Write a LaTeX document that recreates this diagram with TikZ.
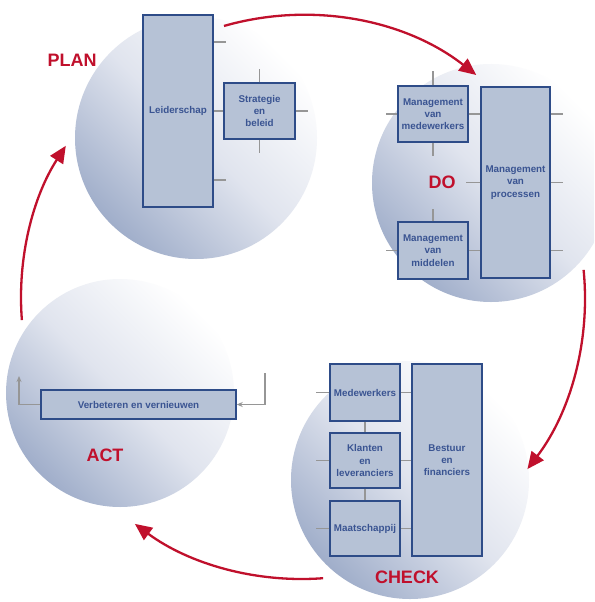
\documentclass[tikz,border=0pt]{standalone}
\usepackage{fontspec}
\setmainfont{Liberation Sans}
\usetikzlibrary{arrows.meta}
\definecolor{boxfill}{RGB}{182,194,214}
\definecolor{boxborder}{RGB}{46,76,136}
\definecolor{boxtext}{RGB}{58,84,146}
\definecolor{pdcared}{RGB}{192,16,44}
\definecolor{tickgray}{RGB}{150,150,150}
\definecolor{circdark}{RGB}{160,174,202}
\definecolor{circmid}{RGB}{224,228,238}
\begin{document}
\begin{tikzpicture}[x=1pt,y=-1pt,
  box/.style={draw=boxborder, fill=boxfill, line width=1.5pt, text=boxtext,
    font=\fontsize{9.8}{12.3}\selectfont\bfseries, align=center, inner sep=0pt, rectangle},
  phase/.style={text=pdcared, font=\fontsize{18}{20}\selectfont\bfseries, inner sep=0pt},
  tick/.style={draw=tickgray, line width=1.4pt},
  grayarrow/.style={draw=tickgray, line width=1.4pt, -{Stealth[length=6pt,width=5pt]}},
  cycle/.style={draw=pdcared, line width=2.3pt, -{Triangle[length=17pt,width=15pt]}},
  disc/.style={shading=axis, top color=white, bottom color=circdark, middle color=circmid, shading angle=-45}]
\useasboundingbox (0,0) rectangle (594,602);
\clip (0,0) rectangle (594,602);
\fill[white] (0,0) rectangle (594,602);
% discs
\coordinate (cplan) at (196,138);
\coordinate (cdo) at (491,183);
\coordinate (ccheck) at (410,480);
\coordinate (cact) at (120,393);
\path[disc] (cplan) circle[radius=121];
\path[disc] (cdo) circle[radius=119];
\path[disc] (ccheck) circle[radius=119];
\path[disc] (cact) circle[radius=114];
% cycle arrows
\coordinate (cc) at (302,298);
\draw[cycle] (cc) ++(-106:283) arc[start angle=-106, end angle=-52, radius=283];
\draw[cycle] (cc) ++(-5.7:283) arc[start angle=-5.7, end angle=37.2, radius=283];
\draw[cycle] (cc) ++(85.7:281) arc[start angle=85.7, end angle=126.5, radius=281];
\draw[cycle] (cc) ++(175.5:281) arc[start angle=175.5, end angle=212.8, radius=281];
% PLAN
\node[box, minimum width=70pt, minimum height=192pt] (lead) at (178,111) {Leiderschap};
\node[box, minimum width=71pt, minimum height=56pt] (strat) at (259.5,111) {Strategie\\en\\beleid};
\draw[tick] (lead.east |- 0,42) -- ++(12,0);
\draw[tick] (lead.east |- 0,180) -- ++(12,0);
\draw[tick] (lead.east) -- (strat.west);
\draw[tick] (strat.north) -- ++(0,-13);
\draw[tick] (strat.south) -- ++(0,13);
\draw[tick] (strat.east) -- ++(12,0);
\node[phase] (plan) at (72,60) {PLAN};
% DO
\node[box, minimum width=70pt, minimum height=56pt] (mmw) at (433,114) {Management\\van\\medewerkers};
\node[box, minimum width=70pt, minimum height=57pt] (mmid) at (433,250.5) {Management\\van\\middelen};
\node[box, minimum width=69pt, minimum height=191pt] (mproc) at (515.5,182.5) {Management\\van\\processen};
\draw[tick] (mmw.north) -- ++(0,-14);
\draw[tick] (mmw.south) -- ++(0,13);
\draw[tick] (mmw.west) -- ++(-11,0);
\draw[tick] (mmw.east) -- (mmw.east -| mproc.west);
\draw[tick] (mmid.north) -- ++(0,-12);
\draw[tick] (mmid.west) -- ++(-11,0);
\draw[tick] (mmid.east) -- (mmid.east -| mproc.west);
\draw[tick] (mproc.west) -- ++(-14,0);
\draw[tick] (mproc.east |- mmw.east) -- ++(12,0);
\draw[tick] (mproc.east) -- ++(12,0);
\draw[tick] (mproc.east |- mmid.east) -- ++(12,0);
\node[phase] (do) at (442,182) {DO};
% CHECK
\node[box, minimum width=70pt, minimum height=57pt] (mede) at (365,392.5) {Medewerkers};
\node[box, minimum width=70pt, minimum height=55pt] (klant) at (365,460.5) {Klanten\\en\\leveranciers};
\node[box, minimum width=70pt, minimum height=55pt] (maat) at (365,528.5) {Maatschappij};
\node[box, minimum width=70pt, minimum height=192pt] (bestuur) at (447,460) {Bestuur\\en\\financiers};
\draw[tick] (mede.west) -- ++(-13,0);
\draw[tick] (klant.west) -- ++(-13,0);
\draw[tick] (maat.west) -- ++(-13,0);
\draw[tick] (mede.east) -- (mede.east -| bestuur.west);
\draw[tick] (klant.east) -- (klant.east -| bestuur.west);
\draw[tick] (maat.east) -- (maat.east -| bestuur.west);
\draw[tick] (mede.south) -- (klant.north);
\draw[tick] (klant.south) -- (maat.north);
\node[phase] (check) at (407,577) {CHECK};
% ACT
\node[box, minimum width=195pt, minimum height=29pt] (verb) at (138.5,404.5) {Verbeteren en vernieuwen};
\coordinate (ar) at (265,373);
\coordinate (al) at (19,376);
\draw[grayarrow] (ar) |- (verb.east);
\draw[grayarrow] (verb.west) -| (al);
\node[phase] (act) at (105,455) {ACT};
\end{tikzpicture}
\end{document}
